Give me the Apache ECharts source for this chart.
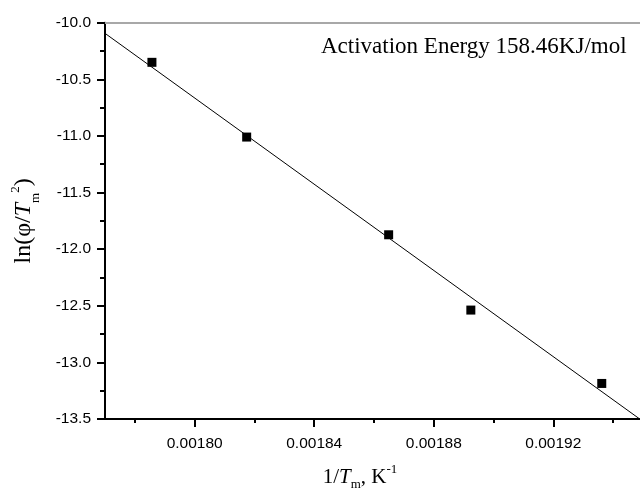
<!DOCTYPE html>
<html>
<head>
<meta charset="utf-8">
<script src="https://cdn.jsdelivr.net/npm/echarts@6/dist/echarts.min.js"></script>
<style>html,body{margin:0;padding:0;background:#fff;}#c{width:640px;height:493px;}</style>
</head>
<body>
<div id="c"></div>
<script>
// Data
var xPts = [0.0017857, 0.0018174, 0.0018649, 0.0018924, 0.0019362];
var yPts = [-10.350, -11.010, -11.873, -12.538, -13.186];
var fitX = [0.00177, 0.00195];
var fitY = [-10.094, -13.521];
var xMajorTicks = [0.00180, 0.00184, 0.00188, 0.00192];
var xMinorTicks = [0.00178, 0.00182, 0.00186, 0.00190, 0.00194];
var annotation = 'Activation Energy 158.46KJ/mol';

var chart = echarts.init(document.getElementById('c'));
var tickFont = {fontFamily: 'Liberation Sans, Arial, sans-serif', fontSize: 15.5, color: '#000'};
var serif = 'Liberation Serif, Times New Roman, serif';

function richSet(size, lh, subPad) {
  return {
    n: {fontFamily: serif, fontSize: size, color: '#000', lineHeight: lh, verticalAlign: 'middle'},
    i: {fontFamily: serif, fontSize: size, fontStyle: 'italic', color: '#000', lineHeight: lh, verticalAlign: 'middle'},
    sub: {fontFamily: serif, fontSize: 13, color: '#000', lineHeight: lh, verticalAlign: 'bottom', padding: subPad},
    sup: {fontFamily: serif, fontSize: 13, color: '#000', lineHeight: lh, verticalAlign: 'top'}
  };
}

chart.setOption({
  animation: false,
  backgroundColor: '#fff',
  grid: {left: 105, top: 22.7, bottom: 74, right: -3, containLabel: false, outerBoundsMode: 'none'},
  xAxis: [
    {
      type: 'value', position: 'bottom', min: 0.00177, max: 0.00195,
      axisLine: {show: true, onZero: false, lineStyle: {color: '#000', width: 2}},
      axisTick: {show: true, length: 8, lineStyle: {color: '#000', width: 2}, customValues: xMajorTicks},
      axisLabel: Object.assign({margin: 17, customValues: xMajorTicks, formatter: function (v) { return v.toFixed(5); }}, tickFont),
      splitLine: {show: false},
      name: '{n|1/}{i|T}{sub|m}{n|, K}{sup|-1}',
      nameLocation: 'middle', nameGap: 44,
      nameTextStyle: {padding: [0, 28, 0, 0], rich: richSet(21, 28, [0, 0, 0, 0])}
    },
    {
      type: 'value', position: 'bottom', min: 0.00177, max: 0.00195,
      axisLine: {show: false, onZero: false},
      axisTick: {show: true, length: 4, lineStyle: {color: '#000', width: 2}, customValues: xMinorTicks},
      axisLabel: {show: false},
      splitLine: {show: false}
    },
    {
      type: 'value', position: 'top', min: 0.00177, max: 0.00195,
      axisLine: {show: true, onZero: false, lineStyle: {color: '#a8a8a8', width: 2}},
      axisTick: {show: false}, axisLabel: {show: false}, splitLine: {show: false}
    }
  ],
  yAxis: [
    {
      type: 'value', min: -13.5, max: -10, interval: 0.5,
      axisLine: {show: true, onZero: false, lineStyle: {color: '#000', width: 2}},
      axisTick: {show: true, length: 8, lineStyle: {color: '#000', width: 2}},
      minorTick: {show: true, splitNumber: 2, length: 5, lineStyle: {color: '#000', width: 2}},
      axisLabel: Object.assign({margin: 14, formatter: function (v) { return v.toFixed(1); }}, tickFont),
      splitLine: {show: false},
      name: '{n|ln(φ/}{i|T}{sub|m}{sup|2}{n|)}',
      nameLocation: 'middle', nameGap: 66, nameRotate: 90,
      nameTextStyle: {rich: richSet(24, 30, [0, 0, -3, 0])}
    }
  ],
  series: [
    {
      type: 'line', xAxisIndex: 0, data: fitX.map(function (x, i) { return [x, fitY[i]]; }),
      showSymbol: false, symbol: 'none', lineStyle: {color: '#000', width: 1}, clip: true, silent: true
    },
    {
      type: 'scatter', xAxisIndex: 0, data: xPts.map(function (x, i) { return [x, yPts[i]]; }),
      symbol: 'rect', symbolSize: 9, itemStyle: {color: '#000', opacity: 1}
    }
  ],
  graphic: [
    {type: 'text', left: 321, top: 35, style: {text: annotation, font: '23px ' + serif, fill: '#000'}}
  ]
});
</script>
</body>
</html>
